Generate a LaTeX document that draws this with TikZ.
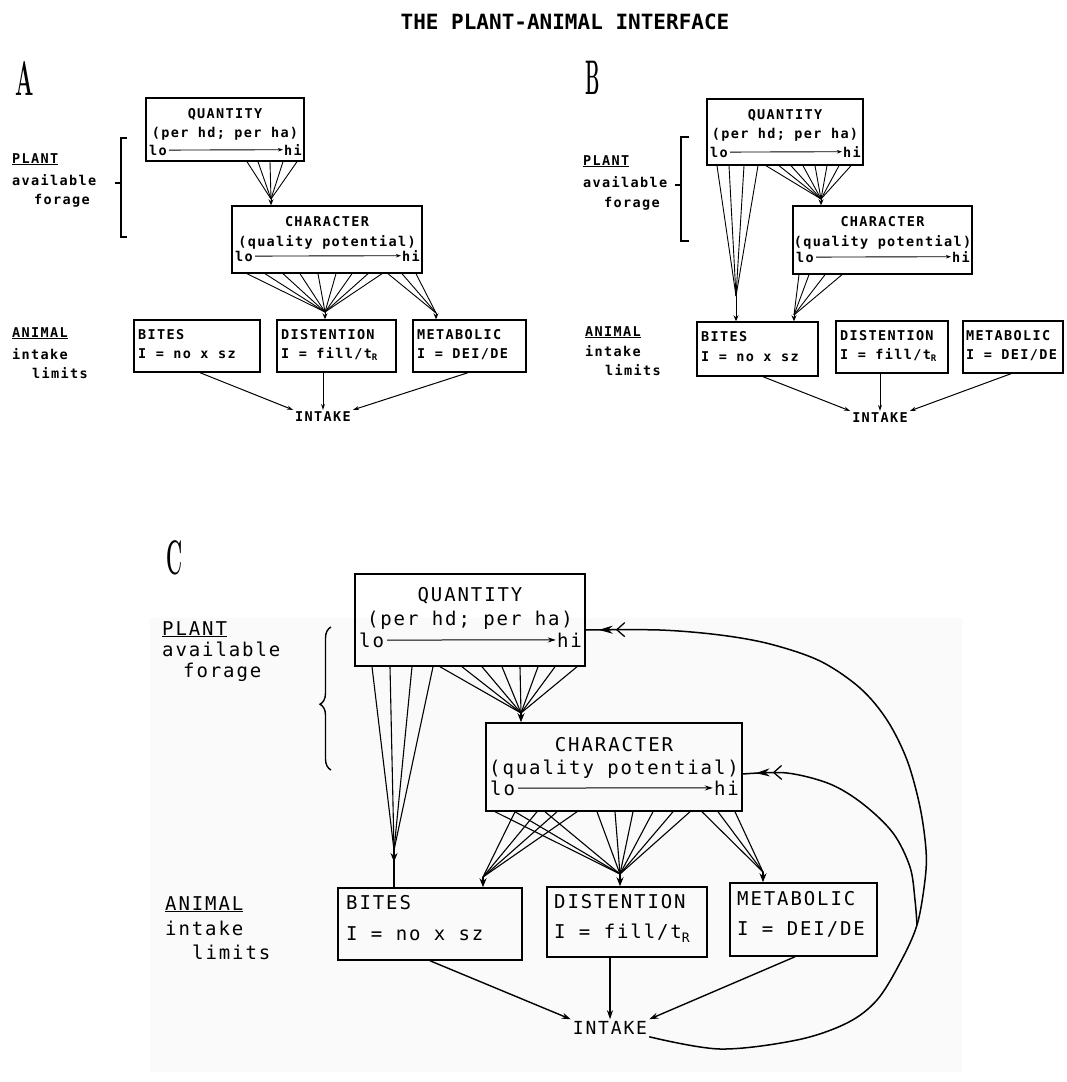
\documentclass[tikz,border=0pt]{standalone}
\usepackage{fontspec}
\usetikzlibrary{arrows.meta,calc,decorations.pathreplacing,decorations.markings}
\newfontfamily\dmono[LetterSpace=10]{DejaVu Sans Mono}
\newfontfamily\tmono{DejaVu Sans Mono}
\newcommand\fntA{\dmono\bfseries\fontsize{13.5}{16}\selectfont}
\newcommand\fntC{\dmono\fontsize{19}{23}\selectfont}
\newcommand\fntI{\dmono\fontsize{18}{22}\selectfont}
\newcommand\fntT{\tmono\bfseries\fontsize{21}{26}\selectfont}
\newcommand\pletter[2]{\scalebox{#2}[1.35]{\fontsize{36}{36}\selectfont\bfseries #1}}
\newcommand\subRA{\raisebox{-2.5pt}{\fontsize{9}{9}\selectfont R}}
\newcommand\subRC{\raisebox{-4pt}{\fontsize{13}{13}\selectfont R}}
\tikzset{
  bxA/.style={draw, line width=1.4pt, inner sep=0pt, rectangle},
  bxC/.style={draw, line width=1.5pt, inner sep=0pt, rectangle},
  tA/.style={font=\fntA, inner sep=0pt},
  tC/.style={font=\fntC, inner sep=0pt},
  lhA/.style={line width=0.9pt, -{Stealth[length=5pt,width=3.5pt]}, shorten <=2pt, shorten >=1pt},
  lhC/.style={line width=1pt, -{Stealth[length=8pt,width=5pt]}, shorten <=3pt, shorten >=1pt},
  fanA/.style={line width=0.9pt},
  fanC/.style={line width=1.1pt},
  stemA/.style={line width=1pt, -{Stealth[length=6pt,width=5pt]}},
  stemC/.style={line width=1.3pt, -{Stealth[length=9pt,width=7pt]}},
  arA/.style={line width=1pt, -{Stealth[length=6pt,width=4pt]}},
  arC/.style={line width=1.4pt, -{Stealth[length=9pt,width=6pt]}},
  brk/.style={line width=1.4pt},
  fb/.style={line width=1.5pt, postaction={decorate}, decoration={markings,
     mark=at position -13pt with {\arrow{Stealth[length=14pt,width=8pt]}},
     mark=at position -30pt with {\arrow{Straight Barb[length=8pt,width=14pt,line width=1.3pt]}}}},
  lblA/.style={font=\fntA, inner sep=0pt, anchor=mid west},
  lblC/.style={font=\fntC, inner sep=0pt, anchor=mid west},
  ltr/.style={inner sep=0pt},
}
\begin{document}
\begin{tikzpicture}[x=1pt,y=-1pt]
\fill[white] (0,0) rectangle (1067,1082);
\useasboundingbox (0,0) rectangle (1067,1082);
\fill[black!2] (150,618) rectangle (962,1072);

\node[font=\fntT] (title) at (565,22) {THE PLANT-ANIMAL INTERFACE};

% ================= PANEL A =================
\node[ltr] (letA) at (25,78) {\pletter{A}{0.6}};
\node[bxA, minimum width=158pt, minimum height=63pt] (qA) at (225,129.5) {};
\node[tA] (qA1) at (225,114) {QUANTITY};
\node[tA] (qA2) at (225,134) {(per hd; per ha)};
\node[tA, anchor=mid west] (qAlo) at (149,153) {lo};
\node[tA, anchor=mid east] (qAhi) at (302,153) {hi};
\draw[lhA] (qAlo) -- (qAhi);

\node[bxA, minimum width=190pt, minimum height=67pt] (cA) at (327,239.5) {};
\node[tA] (cA1) at (327,222) {CHARACTER};
\node[tA] (cA2) at (327,242) {(quality potential)};
\node[tA, anchor=mid west] (cAlo) at (235,259) {lo};
\node[tA, anchor=mid east] (cAhi) at (420,259) {hi};
\draw[lhA] (cAlo) -- (cAhi);

\node[bxA, minimum width=126pt, minimum height=52pt] (bA) at (197,346) {};
\node[lblA] (bA1) at (138,337) {BITES};
\node[lblA] (bA2) at (138,356) {I = no x sz};
\node[bxA, minimum width=119pt, minimum height=52pt] (dA) at (336.5,346) {};
\node[lblA] (dA1) at (281,337) {DISTENTION};
\node[lblA] (dA2) at (281,356) {I = fill/t\subRA};
\node[bxA, minimum width=113pt, minimum height=52pt] (mA) at (469.5,346) {};
\node[lblA] (mA1) at (417,337) {METABOLIC};
\node[lblA] (mA2) at (417,356) {I = DEI/DE};
\node[font=\fntA, inner sep=2pt] (iA) at (323,417) {INTAKE};

\node[lblA] (pA1) at (12,161) {\underline{PLANT}};
\node[lblA] (pA2) at (12,183) {available};
\node[lblA] (pA3) at (34,202) {forage};
\draw[brk] (127,138) -- (121,138) -- (121,237) -- (127,237);
\draw[brk] (121,183) -- (115,183);
\node[lblA] (aA1) at (12,335) {\underline{ANIMAL}};
\node[lblA] (aA2) at (12,357) {intake};
\node[lblA] (aA3) at (32,376) {limits};

\coordinate (kA1) at (271,199);
\foreach \x in {247,258,270,283,297} \draw[fanA] (qA.south -| \x,0) -- (kA1);
\draw[stemA] (kA1) -- (kA1 |- cA.north);
\coordinate (kA2) at (325,312);
\foreach \x in {247,265,283,300,318,336,352,368,382} \draw[fanA] (cA.south -| \x,0) -- (kA2);
\draw[stemA] (kA2) -- (kA2 |- dA.north);
\coordinate (kA3) at (436,313);
\foreach \x in {388,402,416} \draw[fanA] (cA.south -| \x,0) -- (kA3);
\draw[stemA] (kA3) -- (kA3 |- mA.north);

\draw[arA] (bA.south -| 200,0) -- (iA.north west);
\draw[arA] (dA.south -| iA.north) -- (iA.north);
\draw[arA] (mA.south -| 468,0) -- (iA.north east);

% ================= PANEL B =================
\node[ltr] (letB) at (593,78) {\pletter{B}{0.5}};
\node[bxA, minimum width=156pt, minimum height=66pt] (qB) at (785,132) {};
\node[tA] (qB1) at (785,115) {QUANTITY};
\node[tA] (qB2) at (785,135) {(per hd; per ha)};
\node[tA, anchor=mid west] (qBlo) at (710,155) {lo};
\node[tA, anchor=mid east] (qBhi) at (861,155) {hi};
\draw[lhA] (qBlo) -- (qBhi);

\node[bxA, minimum width=179pt, minimum height=68pt] (cB) at (882.5,240) {};
\node[tA] (cB1) at (882.5,222) {CHARACTER};
\node[tA] (cB2) at (882.5,242) {(quality potential)};
\node[tA, anchor=mid west] (cBlo) at (796,260) {lo};
\node[tA, anchor=mid east] (cBhi) at (970,260) {hi};
\draw[lhA] (cBlo) -- (cBhi);

\node[bxA, minimum width=121pt, minimum height=54pt] (bB) at (757.5,349) {};
\node[lblA] (bB1) at (701,339) {BITES};
\node[lblA] (bB2) at (701,359) {I = no x sz};
\node[bxA, minimum width=112pt, minimum height=52pt] (dB) at (892,347) {};
\node[lblA] (dB1) at (840,338) {DISTENTION};
\node[lblA] (dB2) at (840,357) {I = fill/t\subRA};
\node[bxA, minimum width=100pt, minimum height=52pt] (mB) at (1013,347) {};
\node[lblA] (mB1) at (966,338) {METABOLIC};
\node[lblA] (mB2) at (966,357) {I = DEI/DE};
\node[font=\fntA, inner sep=2pt] (iB) at (880,418) {INTAKE};

\node[lblA] (pB1) at (583,163) {\underline{PLANT}};
\node[lblA] (pB2) at (583,185) {available};
\node[lblA] (pB3) at (604,205) {forage};
\draw[brk] (689,137) -- (681,137) -- (681,241) -- (689,241);
\draw[brk] (681,185) -- (675,185);
\node[lblA] (aB1) at (585,334) {\underline{ANIMAL}};
\node[lblA] (aB2) at (585,354) {intake};
\node[lblA] (aB3) at (605,373) {limits};

\coordinate (kB1) at (736,296);
\foreach \x in {717,729,744,758} \draw[fanA] (qB.south -| \x,0) -- (kB1);
\draw[stemA] (kB1) -- (kB1 |- bB.north);
\coordinate (kB2) at (821,199);
\foreach \x in {766,779,791,803,815,827,839,851} \draw[fanA] (qB.south -| \x,0) -- (kB2);
\draw[stemA] (kB2) -- (kB2 |- cB.north);
\coordinate (kB3) at (794,315);
\foreach \x in {799,809,825,842} \draw[fanA] (cB.south -| \x,0) -- (kB3);
\draw[stemA] (kB3) -- (kB3 |- bB.north);

\draw[arA] (bB.south -| 763,0) -- (iB.north west);
\draw[arA] (dB.south -| iB.north) -- (iB.north);
\draw[arA] (mB.south -| 1011,0) -- (iB.north east);

% ================= PANEL C =================
\node[ltr] (letC) at (175,558) {\pletter{C}{0.55}};
\node[bxC, minimum width=230pt, minimum height=92pt] (qC) at (470,620) {};
\node[tC] (qC1) at (470,596) {QUANTITY};
\node[tC] (qC2) at (470,620) {(per hd; per ha)};
\node[tC, anchor=mid west] (qClo) at (359,645) {lo};
\node[tC, anchor=mid east] (qChi) at (582,645) {hi};
\draw[lhC] (qClo) -- (qChi);

\node[bxC, minimum width=256pt, minimum height=88pt] (cC) at (614,767) {};
\node[tC] (cC1) at (614,745) {CHARACTER};
\node[tC] (cC2) at (614,769) {(quality potential)};
\node[tC, anchor=mid west] (cClo) at (490,793) {lo};
\node[tC, anchor=mid east] (cChi) at (739,793) {hi};
\draw[lhC] (cClo) -- (cChi);

\node[bxC, minimum width=184pt, minimum height=72pt] (bC) at (430,924) {};
\node[lblC] (bC1) at (346,907) {BITES};
\node[lblC] (bC2) at (346,938) {I = no x sz};
\node[bxC, minimum width=160pt, minimum height=70pt] (dC) at (627,922) {};
\node[lblC] (dC1) at (554,906) {DISTENTION};
\node[lblC] (dC2) at (554,936) {I = fill/t\subRC};
\node[bxC, minimum width=147pt, minimum height=73pt] (mC) at (803.5,919.5) {};
\node[lblC] (mC1) at (737,903) {METABOLIC};
\node[lblC] (mC2) at (737,933) {I = DEI/DE};
\node[font=\fntI, inner sep=2pt] (iC) at (610,1028) {INTAKE};

\node[lblC] (pC1) at (162,633) {\underline{PLANT}};
\node[lblC] (pC2) at (162,654) {available};
\node[lblC] (pC3) at (183,675) {forage};
\draw[brk, decorate, decoration={brace, amplitude=11pt, aspect=0.46}] (331,770) -- (331,627);
\node[lblC] (aC1) at (165,908) {\underline{ANIMAL}};
\node[lblC] (aC2) at (165,933) {intake};
\node[lblC] (aC3) at (192,957) {limits};

\coordinate (kC1) at (394,850);
\foreach \x in {372,390,412,433} \draw[fanC] (qC.south -| \x,0) -- (kC1);
\draw[stemC] (kC1) -- ($(kC1)+(0,12)$);
\draw[fanC] (kC1) -- (kC1 |- bC.north);
\coordinate (kC2) at (521,713);
\foreach \x in {440,462,482,502,520,538,555,577} \draw[fanC] (qC.south -| \x,0) -- (kC2);
\draw[stemC] (kC2) -- (kC2 |- cC.north);
\coordinate (kC3) at (483,877);
\foreach \x in {515,537,557,577} \draw[fanC] (cC.south -| \x,0) -- (kC3);
\draw[stemC] (kC3) -- (kC3 |- bC.north);
\coordinate (kC4) at (620,874);
\foreach \x in {495,515,545,597,615,633,653,673,690} \draw[fanC] (cC.south -| \x,0) -- (kC4);
\draw[stemC] (kC4) -- (kC4 |- dC.north);
\coordinate (kC5) at (763,872);
\foreach \x in {702,718,735} \draw[fanC] (cC.south -| \x,0) -- (kC5);
\draw[stemC] (kC5) -- (kC5 |- mC.north);

\draw[arC] (bC.south -| 430,0) -- (iC.north west);
\draw[arC] (dC.south -| iC.north) -- (iC.north);
\draw[arC] (mC.south -| 795,0) -- (iC.north east);

% feedback curves
\coordinate (fbQ) at (qC.east |- 0,630);
\coordinate (fbK) at (cC.east |- 0,774);
\coordinate (mrg) at (917,925);
\draw[fb] plot[smooth, tension=0.55] coordinates {(iC.south east) (720,1049) (797,1040) (847,1023) (877,1000) (900,963) (mrg) (925,880) (926,850) (920,807) (907,760) (887,720) (860,688) (820,661) (770,644) (720,635) (660,630) (fbQ)};
\draw[fb] plot[smooth, tension=0.55] coordinates {(mrg) (915,900) (910,867) (893,833) (863,804) (830,784) (787,773) (fbK)};
\end{tikzpicture}
\end{document}
